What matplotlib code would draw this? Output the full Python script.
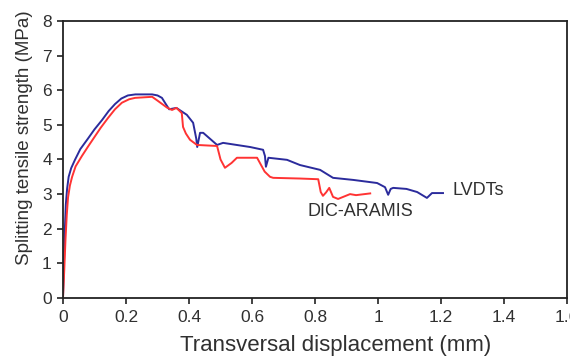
import matplotlib
matplotlib.use("Agg")
import matplotlib.pyplot as plt

# LVDTs curve (blue)
lvdt_x = [0, 0.003, 0.006, 0.009, 0.013, 0.018, 0.026, 0.038, 0.055, 0.079, 0.10, 0.124,
          0.145, 0.165, 0.185, 0.206, 0.23, 0.283, 0.30, 0.314, 0.325, 0.337, 0.36, 0.393,
          0.413, 0.423, 0.426, 0.435, 0.445, 0.489, 0.508, 0.594, 0.635, 0.641, 0.644, 0.652,
          0.711, 0.752, 0.816, 0.857, 0.921, 0.997, 1.022, 1.032, 1.040, 1.048, 1.09, 1.124,
          1.155, 1.171, 1.206]
lvdt_y = [0, 1.0, 2.0, 2.7, 3.15, 3.5, 3.75, 3.99, 4.3, 4.6, 4.87, 5.14,
          5.4, 5.6, 5.76, 5.85, 5.88, 5.88, 5.85, 5.78, 5.62, 5.45, 5.49, 5.29,
          5.06, 4.6, 4.36, 4.77, 4.77, 4.42, 4.48, 4.36, 4.28, 4.1, 3.79, 4.05,
          3.99, 3.84, 3.70, 3.47, 3.41, 3.32, 3.2, 2.98, 3.15, 3.18, 3.15, 3.06,
          2.89, 3.03, 3.03]

# DIC-ARAMIS curve (red)
dic_x = [0, 0.004, 0.008, 0.012, 0.016, 0.022, 0.029, 0.04, 0.06, 0.08, 0.10, 0.12,
         0.143, 0.165, 0.187, 0.21, 0.229, 0.283, 0.30, 0.33, 0.346, 0.36, 0.377, 0.381,
         0.39, 0.403, 0.425, 0.489, 0.5, 0.514, 0.535, 0.552, 0.616, 0.625, 0.64, 0.657,
         0.667, 0.752, 0.81, 0.818, 0.825, 0.835, 0.845, 0.857, 0.873, 0.911, 0.93, 0.975]
dic_y = [0, 0.8, 1.7, 2.4, 2.9, 3.25, 3.5, 3.8, 4.1, 4.38, 4.65, 4.92,
         5.2, 5.45, 5.64, 5.74, 5.78, 5.81, 5.7, 5.5, 5.43, 5.49, 5.34, 4.94,
         4.75, 4.57, 4.42, 4.39, 4.0, 3.76, 3.9, 4.05, 4.05, 3.9, 3.65, 3.5,
         3.47, 3.45, 3.43, 3.06, 2.95, 3.05, 3.18, 2.92, 2.86, 3.0, 2.97, 3.02]

plt.rcParams['font.family'] = ['Liberation Sans', 'DejaVu Sans']
txt = "#303030"

fig = plt.figure(figsize=(5.7, 3.59), dpi=100)
ax = fig.add_axes([0.1105, 0.170, 0.8845, 0.7715])

ax.plot(lvdt_x, lvdt_y, color="#2b2b9c", lw=1.4)
ax.plot(dic_x, dic_y, color="#ff3333", lw=1.4)

ax.set_xlim(0, 1.6)
ax.set_ylim(0, 8)
ax.set_xticks([0, 0.2, 0.4, 0.6, 0.8, 1, 1.2, 1.4, 1.6])
ax.set_xticklabels(["0", "0.2", "0.4", "0.6", "0.8", "1", "1.2", "1.4", "1.6"])
ax.set_yticks(range(0, 9))

for s in ax.spines.values():
    s.set_linewidth(1.3)
    s.set_color("#222222")
ax.tick_params(axis='both', direction='out', length=4, width=1.2,
               labelsize=12.5, colors="#222222", labelcolor=txt)
ax.tick_params(axis='x', pad=5)
ax.tick_params(axis='y', pad=4)

ax.set_xlabel("Transversal displacement (mm)", fontsize=16, color=txt, labelpad=3)
ax.xaxis.set_label_coords(0.54, -0.135)
ax.set_ylabel("Splitting tensile strength (MPa)", fontsize=13.5, color=txt, labelpad=6)
ax.yaxis.set_label_coords(-0.060, 0.578)

ax.text(1.235, 3.1, "LVDTs", fontsize=13, color=txt, va='center', ha='left')
ax.text(0.775, 2.5, "DIC-ARAMIS", fontsize=13, color=txt, va='center', ha='left')

fig.savefig("out.png", dpi=100)
